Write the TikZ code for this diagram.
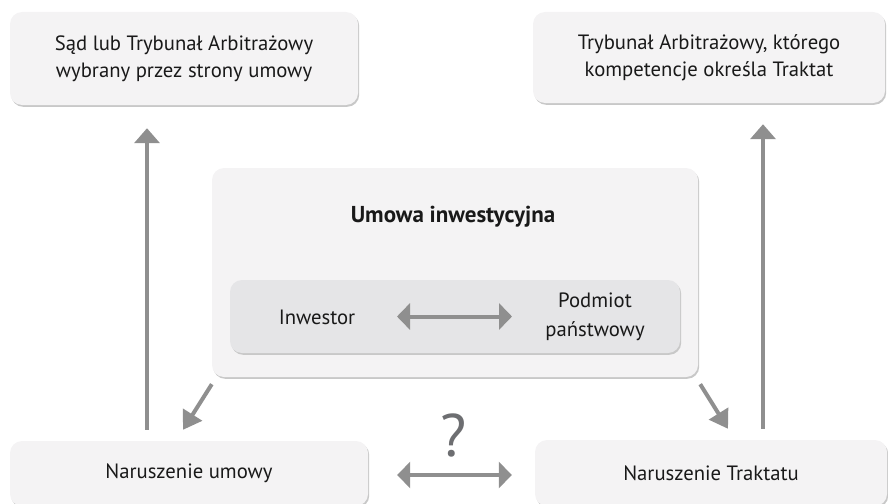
\documentclass[tikz,border=0pt]{standalone}
\usepackage{fontspec}
\setmainfont{PT Sans}
\usetikzlibrary{arrows.meta,shadows,calc}
\definecolor{boxfill}{HTML}{F4F3F4}
\definecolor{innerfill}{HTML}{E5E5E7}
\definecolor{arrowgray}{HTML}{8F8F8F}
\definecolor{qgray}{HTML}{6D6E71}
\definecolor{shadowgray}{HTML}{C8C8C8}
\begin{document}
\begin{tikzpicture}[x=1pt,y=-1pt,
  box/.style={draw=none, fill=boxfill, rounded corners=12pt, inner sep=0pt,
    drop shadow={shadow xshift=1.2pt, shadow yshift=-1.8pt, fill=shadowgray, opacity=1}},
  innerbox/.style={draw=none, fill=innerfill, rounded corners=12pt, inner sep=0pt,
    drop shadow={shadow xshift=1.2pt, shadow yshift=-1.8pt, fill=shadowgray, opacity=1}},
  txt/.style={font=\fontsize{20.7}{27}\selectfont, align=center, text=black!90},
  varrow/.style={draw=arrowgray, line width=4.5pt, -{Triangle[length=15pt,width=25pt]}},
  darrow/.style={draw=arrowgray, line width=4pt, -{Triangle[length=18pt,width=22pt]}},
  harrow/.style={draw=arrowgray, line width=4pt, {Triangle[length=13pt,width=26pt]}-{Triangle[length=13pt,width=26pt]}}
]
\useasboundingbox (0,0) rectangle (888,503);
% boxes
\node[box, minimum width=348pt, minimum height=93pt, txt] (tl) at (184,58.5)
  {Sąd lub Trybunał Arbitrażowy\\wybrany przez strony umowy};
\node[box, minimum width=352pt, minimum height=91pt, txt] (tr) at (709,57.5)
  {Trybunał Arbitrażowy, którego\\kompetencje określa Traktat};
\node[box, minimum width=486pt, minimum height=209pt] (um) at (455,272.5) {};
\node[txt, font=\fontsize{23}{27}\selectfont\bfseries] (title) at (453,217) {Umowa inwestycyjna};
\node[innerbox, minimum width=450pt, minimum height=73pt] (inner) at (455,316.5) {};
\node[txt] (inv) at (317,317) {Inwestor};
\node[txt, font=\fontsize{20.7}{29}\selectfont] (pod) at (595,317) {Podmiot\\państwowy};
\node[box, minimum width=358pt, minimum height=65pt, txt] (bl) at (189,473.5) {Naruszenie umowy};
\node[box, minimum width=352pt, minimum height=66pt, txt] (br) at (711,473) {Naruszenie Traktatu};
\node[text=qgray, font=\fontsize{60}{60}\selectfont] (q) at (454,435) {?};
% arrows
\draw[varrow] ([xshift=-42pt,yshift=11pt]bl.north) -- ([xshift=-37pt,yshift=-23pt]tl.south);
\draw[varrow] ([xshift=52pt,yshift=11pt]br.north) -- ([xshift=54pt,yshift=-21pt]tr.south);
\draw[darrow] ([yshift=-7pt]um.south west) -- ([xshift=-6pt,yshift=11pt]bl.north);
\draw[darrow] ([xshift=2pt,yshift=-7pt]um.south east) -- ([xshift=17pt,yshift=11pt]br.north);
\draw[harrow] ([xshift=-58pt]inner.center) -- ([xshift=57pt]inner.center);
\draw[harrow] ([xshift=29pt,yshift=-1.5pt]bl.east) -- ([xshift=-23pt,yshift=-2pt]br.west);
\end{tikzpicture}
\end{document}
